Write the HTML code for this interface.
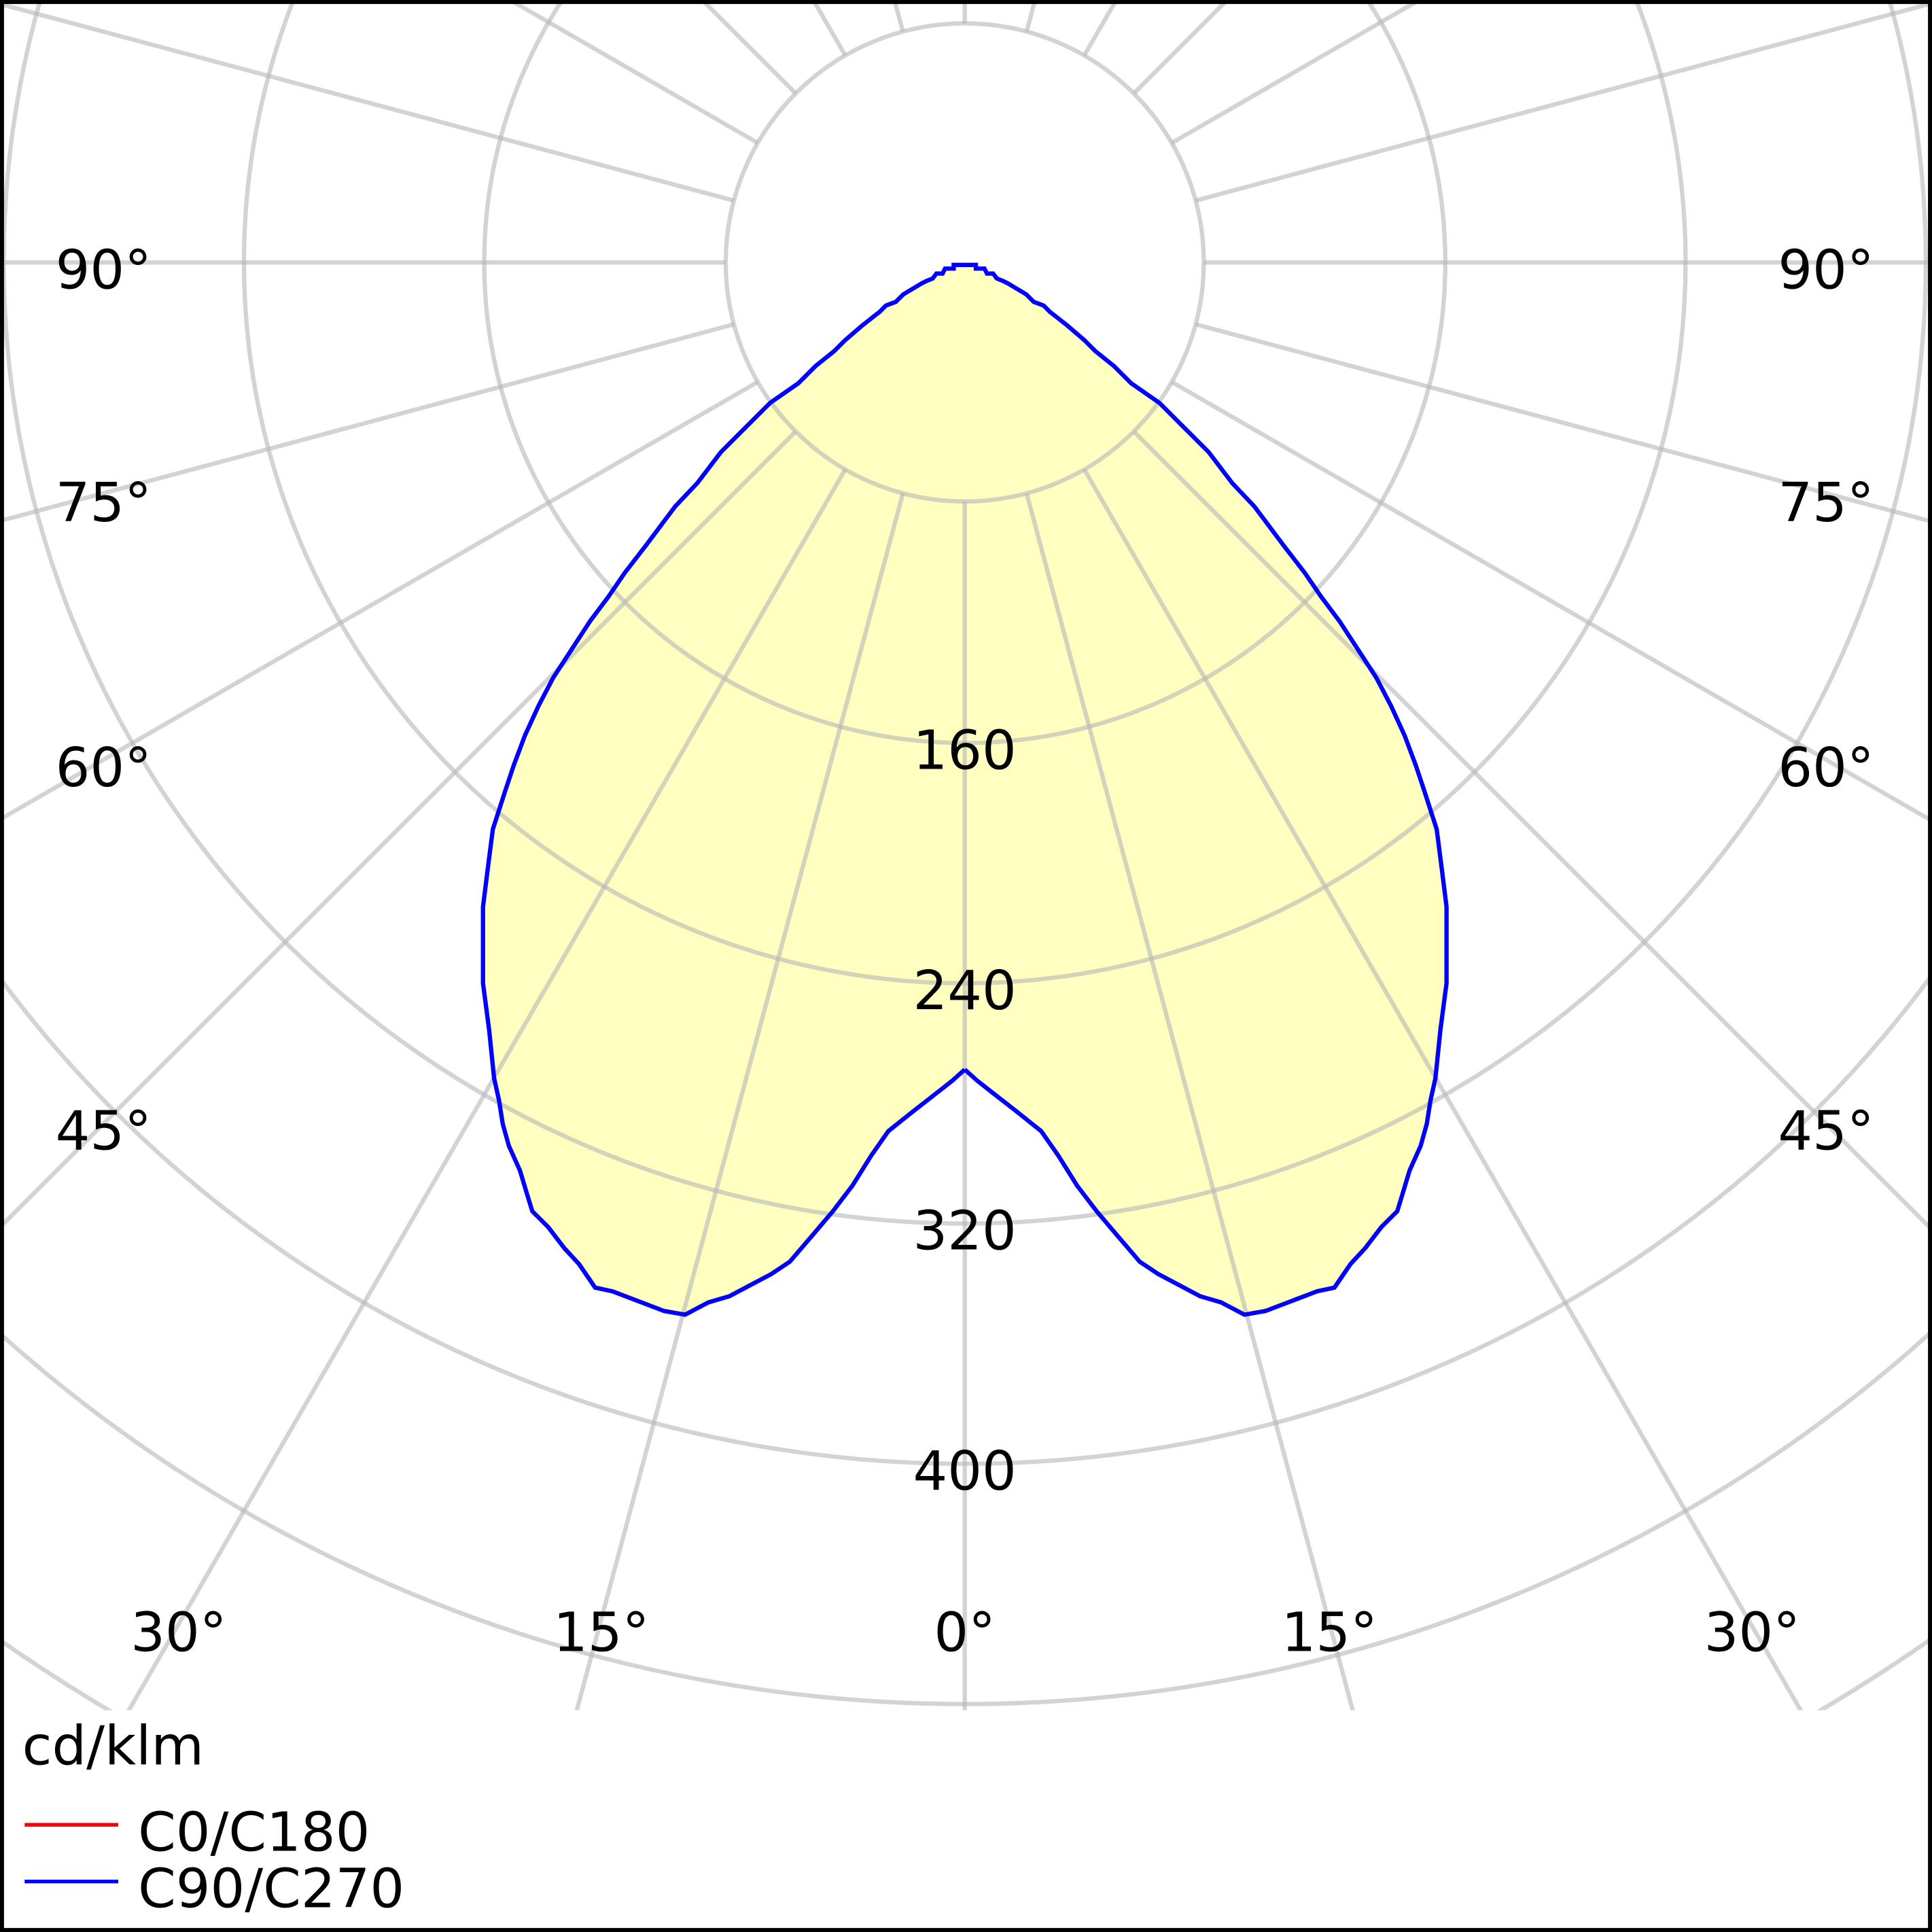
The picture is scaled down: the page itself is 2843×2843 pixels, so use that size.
<!DOCTYPE html>
<html><head><meta charset="utf-8"><style>
html,body{margin:0;padding:0;background:#fff;width:2843px;height:2843px;overflow:hidden;}
svg{display:block;overflow:hidden;}
text{font-family:"DejaVu Sans","Liberation Sans",sans-serif;font-size:44px;fill:#000;}
</style></head><body>
<svg id="s" width="2843" height="2843" viewBox="0 0 1568 1568" xmlns="http://www.w3.org/2000/svg">
<defs><clipPath id="c"><rect x="0" y="0" width="1568" height="1388"/></clipPath></defs>
<rect x="0" y="0" width="1568" height="1568" fill="#fff"/>
<polygon id="curve" fill="#ffffc0" stroke="none" points=""/>
<g id="grid" clip-path="url(#c)" stroke="#b8b8b8" stroke-opacity="0.62" stroke-width="3.5" fill="none"></g>
<polyline id="curve2" fill="none" stroke="#0000ff" stroke-width="3.5" points=""/>
<g id="labels">
<text x="84" y="234" text-anchor="middle">90°</text>
<text x="1482" y="234" text-anchor="middle">90°</text>
<text x="84" y="423" text-anchor="middle">75°</text>
<text x="1482" y="423" text-anchor="middle">75°</text>
<text x="84" y="638" text-anchor="middle">60°</text>
<text x="1482" y="638" text-anchor="middle">60°</text>
<text x="84" y="933" text-anchor="middle">45°</text>
<text x="1482" y="933" text-anchor="middle">45°</text>
<text x="145" y="1340" text-anchor="middle">30°</text>
<text x="1422" y="1340" text-anchor="middle">30°</text>
<text x="488" y="1340" text-anchor="middle">15°</text>
<text x="1079" y="1340" text-anchor="middle">15°</text>
<text x="783" y="1340" text-anchor="middle">0°</text>
<text x="783" y="624" text-anchor="middle">160</text>
<text x="783" y="819" text-anchor="middle">240</text>
<text x="783" y="1014" text-anchor="middle">320</text>
<text x="783" y="1209" text-anchor="middle">400</text>
<text x="18" y="1432">cd/klm</text>
<line x1="20" y1="1481" x2="96" y2="1481" stroke="#ff0000" stroke-width="3"/>
<text x="112" y="1502">C0/C180</text>
<line x1="20" y1="1527" x2="96" y2="1527" stroke="#0000ff" stroke-width="3"/>
<text x="112" y="1548">C90/C270</text>
</g>
<rect x="1.5" y="1.5" width="1565" height="1565" fill="none" stroke="#000" stroke-width="3.5"/>
</svg>
<script>
var cx=783,cy=213,ns="http://www.w3.org/2000/svg",g=document.getElementById('grid');
[194,390,585,780,975,1170,1365,1560].forEach(function(r){var c=document.createElementNS(ns,'circle');c.setAttribute('cx',cx);c.setAttribute('cy',cy);c.setAttribute('r',r);g.appendChild(c);});
for(var a=0;a<360;a+=15){var t=a*Math.PI/180,l=document.createElementNS(ns,'line');
l.setAttribute('x1',cx+194*Math.sin(t));l.setAttribute('y1',cy+194*Math.cos(t));
l.setAttribute('x2',cx+1700*Math.sin(t));l.setAttribute('y2',cy+1700*Math.cos(t));g.appendChild(l);}
var L=[[783,868],[773,877],[759,888],[741,902],[721,918],[707,938],[692,962],[676,983],[659,1003],[641,1024],[626,1034],[609,1043],[592,1052],[575,1057],[556,1067],[539,1064],[518,1056],[497,1048],[483,1045],[470,1026],[458,1013],[445,996],[432,983],[428,970],[422,950],[413,930],[408,912],[405,893],[401,875],[397,836],[392,798],[392,736],[396,704],[400,673],[410,642],[417,621],[426,597],[437,573],[449,550],[464,527],[479,504],[494,484],[507,465],[524,443],[548,411],[566,392],[585,367],[604,348],[625,327],[648,311],[662,297],[677,285],[686,276],[700,264],[714,253],[719,248],[727,245],[733,239],[748,230],[752,228],[757,226],[760,222],[765,222],[767,218],[774,218],[774,215],[783,215]];
var pts=L.slice();for(var i=L.length-2;i>=0;i--)pts.push([1566-L[i][0],L[i][1]]);
var s=pts.map(function(p){return p[0]+','+p[1]}).join(' ');
document.getElementById('curve').setAttribute('points',s);
document.getElementById('curve2').setAttribute('points',s);
</script>
</body></html>
